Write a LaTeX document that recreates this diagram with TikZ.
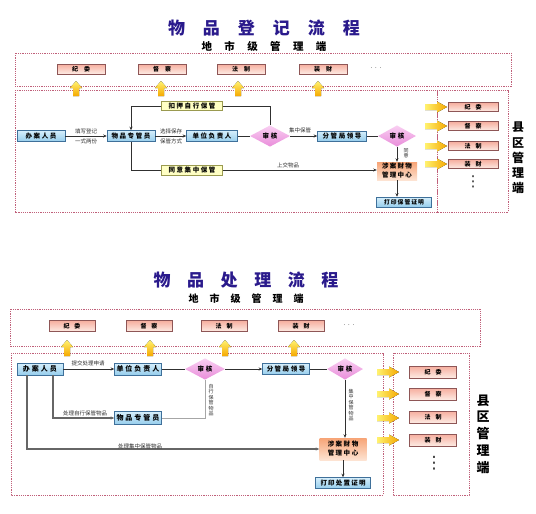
\documentclass[tikz,border=0pt]{standalone}
\usepackage{fontspec}
\setmainfont{Noto Sans CJK SC}
\newfontfamily\dejavu{DejaVu Sans}
\usetikzlibrary{shapes.geometric,arrows.meta}
\definecolor{ttl}{HTML}{2A1A8C}
\definecolor{bluetop}{HTML}{D6EFFC}
\definecolor{bluebot}{HTML}{96CDEC}
\definecolor{blueline}{HTML}{3F709A}
\definecolor{redtop}{HTML}{F6AE9E}
\definecolor{redbot}{HTML}{FDEBE4}
\definecolor{redline}{HTML}{8E5656}
\definecolor{yel}{HTML}{FFFFC4}
\definecolor{yelline}{HTML}{9A9A50}
\definecolor{diatop}{HTML}{F9CFF2}
\definecolor{diabot}{HTML}{E98DDA}
\definecolor{ortop}{HTML}{F7A476}
\definecolor{orbot}{HTML}{FDE3D2}
\definecolor{linec}{HTML}{303030}
\definecolor{framec}{HTML}{C0607A}
\definecolor{arrtop}{HTML}{FFF270}
\definecolor{arrbot}{HTML}{F5A800}
\ExplSyntaxOn
\NewDocumentCommand\spc{mm}{
  \bool_set_true:N \l_tmpa_bool
  \tl_map_inline:nn {#2}{
    \bool_if:NTF \l_tmpa_bool {\bool_set_false:N \l_tmpa_bool}{\hspace{#1}}
    ##1
  }
}
\ExplSyntaxOff
\tikzset{
  lbl/.style={font=\fontsize{5.5}{6}\selectfont, inner sep=0.5pt, text=linec},
  vlbl/.style={font=\fontsize{5}{5.4}\selectfont, align=center, inner sep=0pt, text=linec},
  bluebox/.style={rectangle, top color=bluetop, bottom color=bluebot, draw=blueline, line width=0.5pt, inner sep=0pt, font=\fontsize{6.5}{7}\selectfont\bfseries},
  redbox/.style={rectangle, top color=redtop, bottom color=redbot, draw=redline, line width=0.5pt, inner sep=0pt, font=\fontsize{6}{6}\selectfont\bfseries},
  yelbox/.style={rectangle, fill=yel, draw=yelline, line width=0.5pt, inner sep=0pt, font=\fontsize{6.5}{7}\selectfont\bfseries},
  dia/.style={diamond, top color=diatop, bottom color=diabot, inner sep=0pt, font=\fontsize{6.5}{7}\selectfont\bfseries},
  orbox/.style={rectangle, top color=ortop, bottom color=orbot, inner sep=0pt, align=center, font=\fontsize{6.5}{9}\selectfont\bfseries},
  conn/.style={draw=linec, line width=0.6pt},
  arr/.style={conn, -{Stealth[length=3.5pt,width=3pt]}},
  frame/.style={draw=framec, line width=0.5pt, dash pattern=on 1.2pt off 1pt},
  yarrow/.style={top color=arrtop, bottom color=arrbot, draw=none},
  rarrow/.style={left color=arrtop, right color=arrbot, draw=none},
  vdots/.style={font=\dejavu\fontsize{15}{15}\selectfont, inner sep=0pt, text=linec},
}
\begin{document}
\begin{tikzpicture}[x=1pt,y=-1pt]
\useasboundingbox[fill=white] (0,0) rectangle (536,514);

% ================= TOP DIAGRAM =================
\node[text=ttl, font=\fontsize{17}{17}\selectfont\bfseries] (title1) at (264,28) {\spc{18pt}{物品登记流程}};
\node[font=\fontsize{10.5}{11}\selectfont\bfseries] (sub1) at (264,46) {\spc{12.4pt}{地市级管理端}};
\draw[frame] (15,53) rectangle (511,86);
\draw[frame] (15,90) rectangle (437,212);
\draw[frame] (437,90) rectangle (508,212);

\node[redbox, minimum width=48pt, minimum height=10pt] (r1a) at (81,69) {\spc{6pt}{纪委}};
\node[redbox, minimum width=48pt, minimum height=10pt] (r1b) at (162,69) {\spc{6pt}{督察}};
\node[redbox, minimum width=48pt, minimum height=10pt] (r1c) at (241,69) {\spc{6pt}{法制}};
\node[redbox, minimum width=48pt, minimum height=10pt] (r1d) at (323,69) {\spc{6pt}{装财}};
\node[font=\fontsize{6}{6}\selectfont] (dots1) at (376,68) {.\hspace{3pt}.\hspace{3pt}.};

\foreach \x in {76,161,238,318}{
  \fill[yarrow] (\x-3,96) -- (\x+3,96) -- (\x+3,88) -- (\x+6,88) -- (\x,81) -- (\x-6,88) -- (\x-3,88) -- cycle;
}
\foreach \y in {107,126,146,164}{
  \fill[rarrow] (425,\y-3) -- (437,\y-3) -- (437,\y-5.5) -- (447,\y) -- (437,\y+5.5) -- (437,\y+3) -- (425,\y+3) -- cycle;
}

\node[redbox, minimum width=50pt, minimum height=9pt] (q1a) at (473,107) {\spc{5pt}{纪委}};
\node[redbox, minimum width=50pt, minimum height=9pt] (q1b) at (473,126) {\spc{5pt}{督察}};
\node[redbox, minimum width=50pt, minimum height=9pt] (q1c) at (473,146) {\spc{5pt}{法制}};
\node[redbox, minimum width=50pt, minimum height=9pt] (q1d) at (473,164) {\spc{5pt}{装财}};
\node[vdots] (vd1) at (473,182) {⋮};
\node[font=\fontsize{12}{15.2}\selectfont\bfseries, align=center, inner sep=0pt] (xq1) at (518,158) {县\\区\\管\\理\\端};

\node[bluebox, minimum width=48pt, minimum height=11pt] (a1) at (41,136) {\spc{1.6pt}{办案人员}};
\node[bluebox, minimum width=48pt, minimum height=11pt] (b1) at (131,136) {\spc{1.6pt}{物品专管员}};
\node[bluebox, minimum width=51pt, minimum height=11pt] (c1) at (212,136) {\spc{1.6pt}{单位负责人}};
\node[yelbox, minimum width=61pt, minimum height=9pt] (t1) at (192,106) {\spc{1.6pt}{扣押自行保管}};
\node[yelbox, minimum width=61pt, minimum height=10pt] (u1) at (192,170) {\spc{1.6pt}{同意集中保管}};
\node[dia, minimum width=40pt, minimum height=15pt] (d1) at (270,136) {\spc{2pt}{审核}};
\node[bluebox, minimum width=49pt, minimum height=10pt] (e1) at (342,136) {\spc{1.6pt}{分管局领导}};
\node[dia, minimum width=38pt, minimum height=16pt] (d2) at (397,136) {\spc{2pt}{审核}};
\node[orbox, minimum width=40pt, minimum height=18pt] (f1) at (397,171) {\spc{1.2pt}{涉案财物}\\\spc{1.2pt}{管理中心}};
\node[bluebox, minimum width=55pt, minimum height=10pt, font=\fontsize{5.8}{6}\selectfont\bfseries] (g1) at (404,202) {\spc{1pt}{打印保管证明}};

\draw[arr] (a1.east) -- (b1.west);
\node[lbl] (l1a) at (86,131) {填写登记};
\node[lbl] (l1b) at (86,141) {一式两份};
\draw[arr] (b1.east) -- (c1.west);
\node[lbl] (l2a) at (171,131) {选择保存};
\node[lbl] (l2b) at (171,141) {保管方式};
\draw[conn] (c1.east) -- (d1.west);
\draw[arr] (d1.east) -- (e1.west);
\node[lbl] (l3) at (300,130) {集中保管};
\draw[conn] (e1.east) -- (d2.west);
\draw[arr] (d2.south) -- (f1.north);
\node[vlbl] (l4) at (406,153) {同\\意};
\draw[arr] (f1.south) -- (f1.south |- g1.north);
\draw[arr] (t1.west) -| (b1.north);
\draw[conn] (t1.east) -| (d1.north);
\draw[conn] (b1.south) |- (u1.west);
\draw[arr] (u1.east) -- (u1.east -| f1.west);
\node[lbl] (l5) at (288,165) {上交物品};

% ================= BOTTOM DIAGRAM =================
\node[text=ttl, font=\fontsize{17}{17}\selectfont\bfseries] (title2) at (246,280) {\spc{16.6pt}{物品处理流程}};
\node[font=\fontsize{10}{11}\selectfont\bfseries] (sub2) at (246,299) {\spc{11pt}{地市级管理端}};
\draw[frame] (10,309) rectangle (480,346);
\draw[frame] (11,353) rectangle (383,495);
\draw[frame] (393,353) rectangle (469,495);

\node[redbox, minimum width=46pt, minimum height=11pt] (r2a) at (72,326) {\spc{5pt}{纪委}};
\node[redbox, minimum width=46pt, minimum height=11pt] (r2b) at (149,326) {\spc{5pt}{督察}};
\node[redbox, minimum width=46pt, minimum height=11pt] (r2c) at (224,326) {\spc{5pt}{法制}};
\node[redbox, minimum width=46pt, minimum height=11pt] (r2d) at (301,326) {\spc{5pt}{装财}};
\node[font=\fontsize{6}{6}\selectfont] (dots2) at (349,325) {.\hspace{3pt}.\hspace{3pt}.};

\foreach \x in {67,150,225,294}{
  \fill[yarrow] (\x-3,356) -- (\x+3,356) -- (\x+3,347) -- (\x+6,347) -- (\x,340) -- (\x-6,347) -- (\x-3,347) -- cycle;
}
\foreach \y in {372,394,418,440}{
  \fill[rarrow] (377,\y-3) -- (389,\y-3) -- (389,\y-5.5) -- (399,\y) -- (389,\y+5.5) -- (389,\y+3) -- (377,\y+3) -- cycle;
}

\node[redbox, minimum width=47pt, minimum height=12pt] (q2a) at (433,372) {\spc{5pt}{纪委}};
\node[redbox, minimum width=47pt, minimum height=12pt] (q2b) at (433,394) {\spc{5pt}{督察}};
\node[redbox, minimum width=47pt, minimum height=12pt] (q2c) at (433,417) {\spc{5pt}{法制}};
\node[redbox, minimum width=47pt, minimum height=12pt] (q2d) at (433,440) {\spc{5pt}{装财}};
\node[vdots, font=\dejavu\fontsize{17}{17}\selectfont] (vd2) at (434,463) {⋮};
\node[font=\fontsize{13}{16.8}\selectfont\bfseries, align=center, inner sep=0pt] (xq2) at (483,434) {县\\区\\管\\理\\端};

\node[bluebox, minimum width=46pt, minimum height=12pt, font=\fontsize{7}{7}\selectfont\bfseries] (a2) at (40,369) {\spc{2pt}{办案人员}};
\node[bluebox, minimum width=47pt, minimum height=12pt, font=\fontsize{7}{7}\selectfont\bfseries] (b2) at (138,369) {\spc{2pt}{单位负责人}};
\node[dia, minimum width=40pt, minimum height=18pt] (d3) at (205,369) {\spc{2pt}{审核}};
\node[bluebox, minimum width=47pt, minimum height=11pt] (e2) at (286,369) {\spc{1.5pt}{分管局领导}};
\node[dia, minimum width=36pt, minimum height=18pt] (d4) at (345,369) {\spc{2pt}{审核}};
\node[bluebox, minimum width=47pt, minimum height=13pt, font=\fontsize{7}{7}\selectfont\bfseries] (h2) at (138,418) {\spc{2pt}{物品专管员}};
\node[orbox, minimum width=47pt, minimum height=22pt] (f2) at (343,449) {\spc{1.5pt}{涉案财物}\\\spc{1.5pt}{管理中心}};
\node[bluebox, minimum width=55pt, minimum height=11pt] (g2) at (343,483) {\spc{1.2pt}{打印处置证明}};

\draw[arr] (a2.east) -- (b2.west);
\node[lbl] (m1) at (88,363) {提交处理申请};
\draw[conn] (b2.east) -- (d3.west);
\draw[arr] (d3.east) -- (e2.west);
\draw[conn] (e2.east) -- (d4.west);
\draw[arr] (d4.south) -- (d4.south |- f2.north);
\node[vlbl] (m2) at (351,405) {集\\中\\保\\管\\物\\品};
\draw[arr, draw=gray!80!black, line width=1.1pt] ([xshift=13pt]a2.south) |- (h2.west);
\node[lbl] (m3) at (85,413) {处理自行保管物品};
\draw[conn, draw=gray!70, line width=0.6pt] (h2.east) -| (d3.south);
\node[vlbl] (m4) at (211,400) {自\\行\\保\\管\\物\\品};
\draw[arr, draw=gray!80!black, line width=1.1pt] ([xshift=-13pt]a2.south) |- (f2.west);
\node[lbl] (m5) at (140,446) {处理集中保管物品};
\draw[arr] (f2.south) -- (f2.south |- g2.north);
\end{tikzpicture}
\end{document}
